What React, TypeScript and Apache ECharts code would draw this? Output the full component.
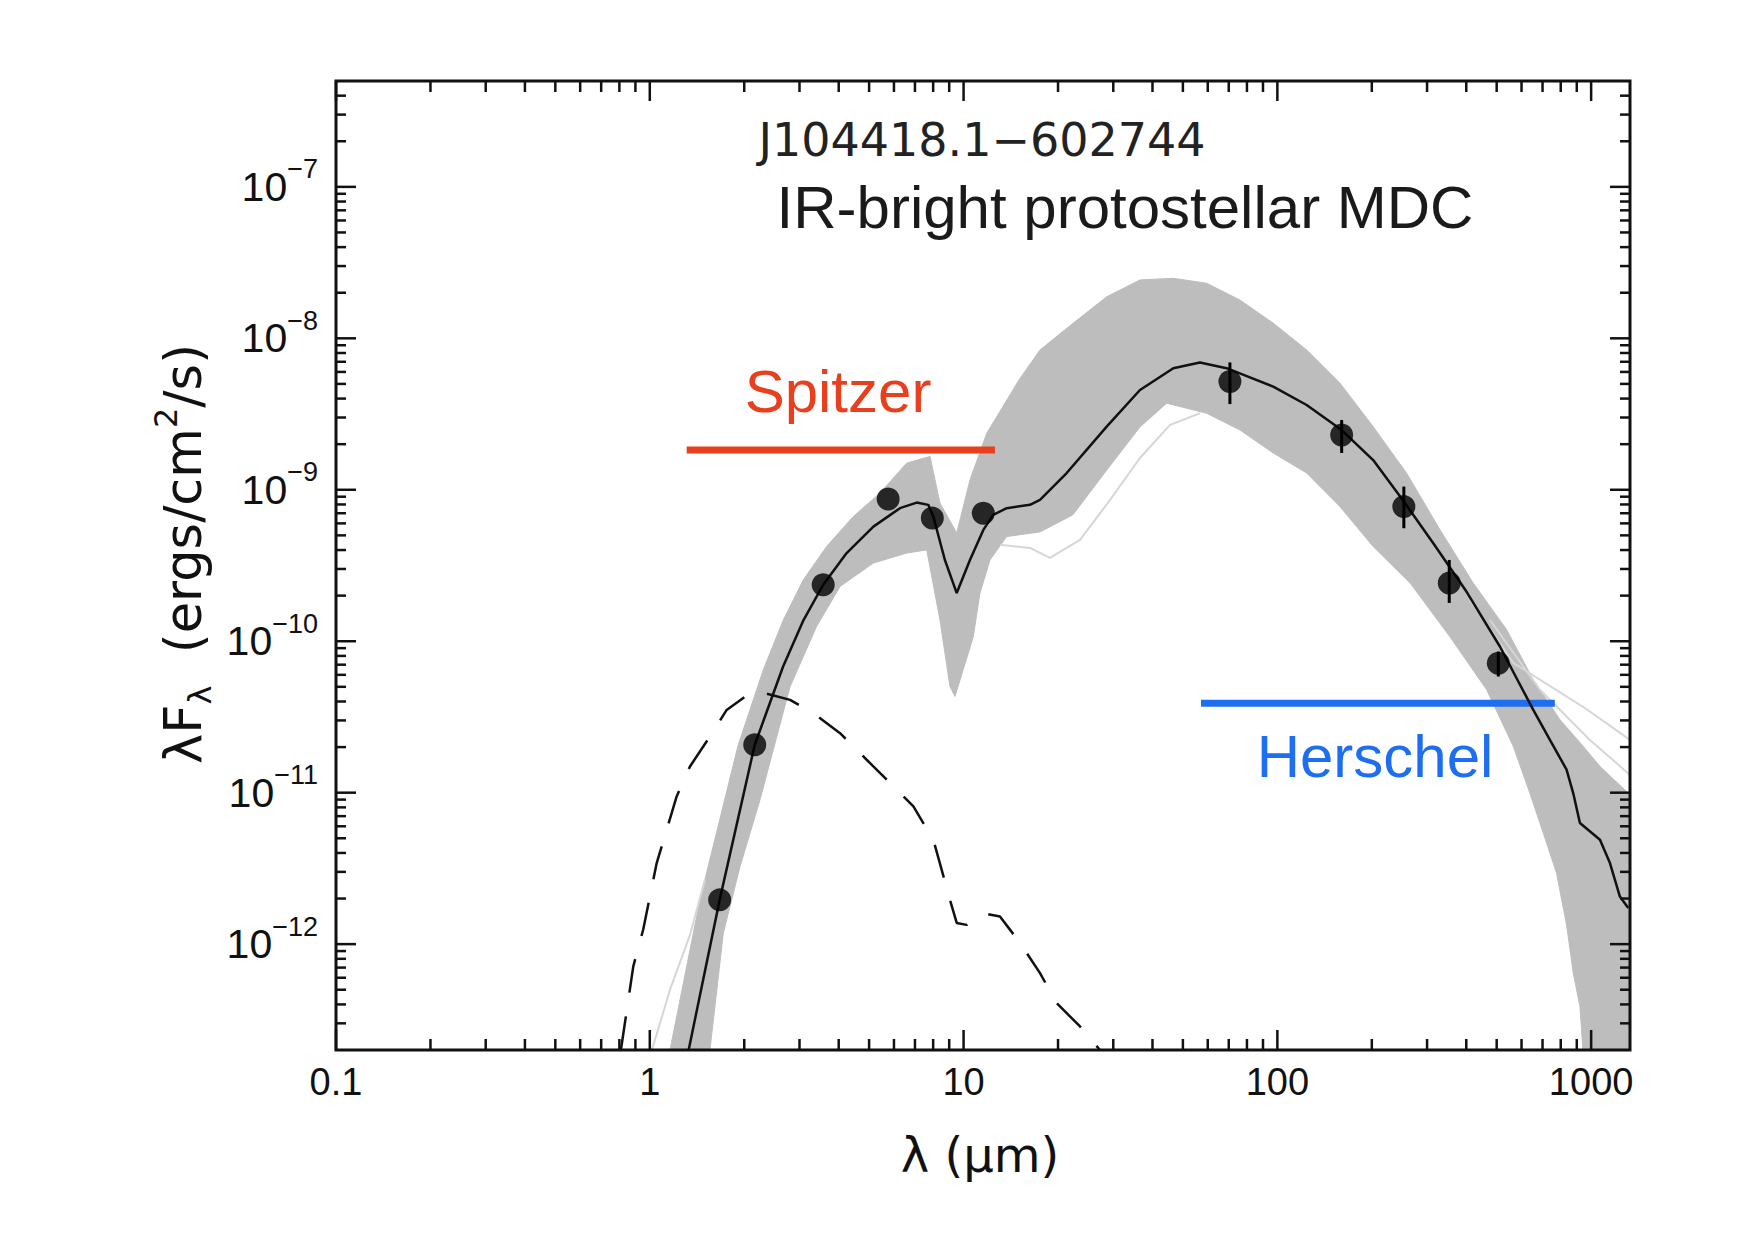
import React, { useEffect, useRef } from 'react';
import * as echarts from 'echarts';

// ---------- axis ranges & ticks ----------
const X_RANGE = [0.1, 1330];
const Y_RANGE = [2e-13, 5e-7];
const xMajorTicks = [0.1, 1, 10, 100, 1000];
const yMajorTicks = [1e-12, 1e-11, 1e-10, 1e-9, 1e-8, 1e-7];
const minorMantissas = [2, 3, 4, 5, 6, 7, 8, 9];
const xMinorDecades = [0.1, 1, 10, 100];
const yMinorDecades = [1e-13, 1e-12, 1e-11, 1e-10, 1e-9, 1e-8, 1e-7];

// ---------- observed photometry (lambda in micron, lambda F_lambda) ----------
const obsWave = [1.67, 2.16, 3.57, 5.75, 7.95, 11.56, 70.6, 160.3, 253, 353, 506];
const obsFlux = [1.96e-12, 2.07e-11, 2.36e-10, 8.7e-10, 6.5e-10, 7.0e-10, 5.18e-9, 2.3e-9, 7.74e-10, 2.42e-10, 7.16e-11];
const errWave = [70.6, 160.3, 253, 353, 506];
const errHigh = [6.93e-9, 2.89e-9, 1.05e-9, 3.44e-10, 8.55e-11];
const errLow = [3.68e-9, 1.75e-9, 5.57e-10, 1.79e-10, 5.85e-11];

// ---------- best fit model ----------
const fitWave = [1.33, 1.67, 2.16, 2.66, 3.09, 3.57, 4.24, 5.16, 6.27, 7.09, 7.72, 8.01, 8.72, 9.51, 10.48, 11.56, 12.43, 13.72, 16.28, 17.52, 21.31, 28.58, 36.49, 46.6, 56.66, 68.9, 97.0, 124, 160.3, 202, 253, 314, 401, 512, 654, 739, 835, 877, 921, 1067, 1148, 1235, 1313];
const fitFlux = [2.0e-13, 1.96e-12, 2.07e-11, 6.81e-11, 1.38e-10, 2.36e-10, 3.82e-10, 5.71e-10, 7.56e-10, 8.23e-10, 7.95e-10, 6.65e-10, 3.44e-10, 2.08e-10, 3.44e-10, 5.43e-10, 6.83e-10, 7.56e-10, 7.95e-10, 8.57e-10, 1.29e-9, 2.61e-9, 4.56e-9, 6.35e-9, 6.92e-9, 6.35e-9, 4.8e-9, 3.63e-9, 2.48e-9, 1.57e-9, 8.36e-10, 4.44e-10, 2.12e-10, 9.23e-11, 3.52e-11, 2.23e-11, 1.42e-11, 9.9e-12, 6.3e-12, 4.89e-12, 3.43e-12, 2.06e-12, 1.73e-12];

// ---------- envelope of acceptable models (grey band) ----------
const bandUpperWave = [1.16, 1.445, 1.91, 2.3, 2.664, 3.085, 3.66, 4.45, 5.41, 6.59, 7.82, 8.41, 9.51, 10.48, 11.85, 15.02, 17.52, 22.37, 28.58, 36.49, 46.6, 59.5, 76.0, 97.0, 124, 158.3, 202, 258, 330, 421, 538, 654, 796, 944, 1067, 1330, 1330];
const bandUpperFlux = [2e-13, 1.96e-12, 2.04e-11, 6.47e-11, 1.38e-10, 2.54e-10, 4.22e-10, 6.65e-10, 9.5e-10, 1.5e-9, 1.66e-9, 8.16e-10, 5.18e-10, 1.16e-9, 2.36e-9, 5.31e-9, 8.38e-9, 1.26e-8, 1.88e-8, 2.43e-8, 2.49e-8, 2.31e-8, 1.79e-8, 1.26e-8, 8.38e-9, 5.06e-9, 2.61e-9, 1.29e-9, 5.43e-10, 2.42e-10, 1.19e-10, 5.56e-11, 3.03e-11, 2.02e-11, 1.49e-11, 9.7e-12, 2e-13];
const bandLowerWave = [1.555, 1.715, 1.94, 2.245, 2.8, 3.4, 4.04, 5.155, 6.59, 7.63, 8.41, 9.05, 9.39, 10.74, 11.28, 12.14, 13.72, 17.52, 22.3, 28.6, 36.49, 44.4, 59.5, 76, 97, 124, 158.3, 202, 264.6, 354.8, 464.5, 565, 638, 704, 776, 835, 877, 921, 942];
const bandLowerFlux = [2e-13, 1.18e-12, 3.26e-12, 8.97e-12, 5.02e-11, 1.25e-10, 2.3e-10, 3.28e-10, 3.82e-10, 4.01e-10, 1.38e-10, 5.02e-11, 4.32e-11, 1.07e-10, 2.08e-10, 3.44e-10, 4.91e-10, 5.27e-10, 6.83e-10, 1.35e-9, 2.6e-9, 3.73e-9, 3.2e-9, 2.48e-9, 1.75e-9, 1.29e-9, 7.74e-10, 4.22e-10, 2.43e-10, 1.07e-10, 4.78e-11, 2.02e-11, 9.9e-12, 5.41e-12, 2.94e-12, 1.34e-12, 6.44e-13, 3.88e-13, 2e-13];

// faint outlying model curves
const faintAWave = [1.016, 1.16, 1.343, 1.499];
const faintAFlux = [2e-13, 5.0e-13, 1.15e-12, 2.66e-12];
const faintBWave = [13.06, 16.28, 18.85, 23.5, 29.3, 36.49, 45.5, 56.66];
const faintBFlux = [4.33e-10, 4.13e-10, 3.55e-10, 4.67e-10, 8.57e-10, 1.62e-9, 2.68e-9, 3.2e-9];
const faintCWave = [411, 565, 942, 1330];
const faintCFlux = [1.88e-10, 7.2e-11, 3.69e-11, 2.23e-11];
const faintDWave = [476, 687, 991, 1330];
const faintDFlux = [1.38e-10, 4.78e-11, 2.23e-11, 1.31e-11];

// ---------- stellar photosphere (dashed) ----------
const photWave = [0.809, 0.886, 0.953, 1.052, 1.218, 1.343, 1.555, 1.758, 2.086, 2.33, 2.8, 3.32, 4.04, 4.91, 5.83, 6.92, 8.01, 9.05, 9.51, 10.23, 11.7, 13.06, 15.13, 17.52, 19.8, 23.5, 27.2];
const photFlux = [2e-13, 7.13e-13, 1.25e-12, 3.43e-12, 9.44e-12, 1.49e-11, 2.35e-11, 3.52e-11, 4.54e-11, 4.54e-11, 4.1e-11, 3.35e-11, 2.47e-11, 1.65e-11, 1.16e-11, 8.11e-12, 4.89e-12, 1.96e-12, 1.38e-12, 1.34e-12, 1.59e-12, 1.52e-12, 1.02e-12, 6.44e-13, 4.08e-13, 2.86e-13, 2e-13];

// ---------- instrument coverage bars ----------
const spitzerWave = [1.311, 12.59];
const spitzerFlux = [1.83e-9, 1.83e-9];
const herschelWave = [57.1, 766];
const herschelFlux = [3.9e-11, 3.9e-11];

const RED = '#e8401e';
const BLUE = '#1d6ef0';
const BAND = '#bdbdbd';
const FAINT = '#d6d6d6';
const INK = '#111111';

const zip = (xs: number[], ys: number[]) => xs.map((x, i) => [x, ys[i]]);
const isPow10 = (v: number) => {
  const l = Math.log10(v);
  return Math.abs(l - Math.round(l)) < 1e-6;
};

export default function App() {
  const ref = useRef<HTMLDivElement>(null);

  useEffect(() => {
    if (!ref.current) return;
    const chart = echarts.init(ref.current, null, { renderer: 'svg' });

    const bandPts = [...zip(bandUpperWave, bandUpperFlux), ...zip(bandLowerWave, bandLowerFlux).reverse()];
    const xMinor = xMinorDecades.flatMap((d) => minorMantissas.map((m) => m * d)).filter((v) => v < X_RANGE[1] * 0.999);
    const yMinor = yMinorDecades
      .flatMap((d) => minorMantissas.map((m) => m * d))
      .filter((v) => v > Y_RANGE[0] * 1.001 && v < Y_RANGE[1] * 0.999);
    const xTicks = [...xMajorTicks.map((v) => [v, 1]), ...xMinor.map((v) => [v, 0])];
    const yTicks = [...yMajorTicks.map((v) => [v, 1]), ...yMinor.map((v) => [v, 0])];

    const bandRender = (params: any, api: any) => {
      if (params.dataIndex !== 0) return null;
      const points = bandPts.map((p) => api.coord(p));
      return { type: 'polygon', shape: { points }, style: { fill: BAND, stroke: BAND, lineWidth: 1 } };
    };

    const errRender = (params: any, api: any) => {
      const lo = api.coord([api.value(0), api.value(1)]);
      const hi = api.coord([api.value(0), api.value(2)]);
      return {
        type: 'line',
        shape: { x1: lo[0], y1: lo[1], x2: hi[0], y2: hi[1] },
        style: { stroke: '#000', lineWidth: 3 },
      };
    };

    const frameRender = (params: any, api: any) => {
      const cs = params.coordSys;
      const left = cs.x;
      const top = cs.y;
      const right = cs.x + cs.width;
      const bottom = cs.y + cs.height;
      const children: any[] = [];
      const add = (x1: number, y1: number, x2: number, y2: number) =>
        children.push({ type: 'line', shape: { x1, y1, x2, y2 }, style: { stroke: INK, lineWidth: 2.5 } });
      xTicks.forEach(([v, major]) => {
        const px = api.coord([v, Y_RANGE[0]])[0];
        const len = major ? 20 : 11;
        add(px, bottom, px, bottom - len);
        add(px, top, px, top + len);
      });
      yTicks.forEach(([v, major]) => {
        const py = api.coord([X_RANGE[0], v])[1];
        const len = major ? 20 : 10;
        add(left, py, left + len, py);
        add(right, py, right - len, py);
      });
      children.push({
        type: 'rect',
        shape: { x: left, y: top, width: cs.width, height: cs.height },
        style: { fill: 'none', stroke: INK, lineWidth: 3 },
      });
      return { type: 'group', children };
    };

    const faintLine = (w: number[], f: number[]) => ({
      type: 'line',
      data: zip(w, f),
      symbol: 'none',
      showSymbol: false,
      silent: true,
      lineStyle: { color: FAINT, width: 2 },
      z: 2,
    });

    const textStyle = (text: string, size: number, family: string, fill: string) => ({
      text,
      fontSize: size,
      fontFamily: family,
      fill,
      align: 'center',
      verticalAlign: 'middle',
      textAlign: 'center',
      textVerticalAlign: 'middle',
    });

    const option: any = {
      animation: false,
      backgroundColor: '#ffffff',
      grid: { left: 336, top: 81, width: 1294, height: 969, containLabel: false, outerBoundsMode: 'none' },
      xAxis: {
        type: 'log',
        logBase: 10,
        min: X_RANGE[0],
        max: X_RANGE[1],
        axisLine: { show: false },
        axisTick: { show: false },
        splitLine: { show: false },
        minorTick: { show: false },
        axisLabel: {
          margin: 13,
          color: INK,
          fontSize: 38,
          fontFamily: 'Liberation Sans',
          showMinLabel: true,
          showMaxLabel: true,
          formatter: (v: number) => (isPow10(v) ? (v < 1 ? '0.1' : String(Math.round(v))) : ''),
        },
      },
      yAxis: {
        type: 'log',
        logBase: 10,
        min: Y_RANGE[0],
        max: Y_RANGE[1],
        axisLine: { show: false },
        axisTick: { show: false },
        splitLine: { show: false },
        minorTick: { show: false },
        axisLabel: {
          margin: 18,
          color: INK,
          showMinLabel: true,
          showMaxLabel: true,
          formatter: (v: number) => {
            if (!isPow10(v)) return '';
            const e = Math.round(Math.log10(v));
            return `{b|10}{s|\u2212${Math.abs(e)}}`;
          },
          rich: {
            b: { fontSize: 41, fontFamily: 'Liberation Sans', color: INK, lineHeight: 62 },
            s: { fontSize: 27, fontFamily: 'Liberation Sans', color: INK, lineHeight: 26, verticalAlign: 'top' },
          },
        },
      },
      series: [
        { type: 'custom', name: 'models', renderItem: bandRender, data: bandPts, clip: true, silent: true, z: 1 },
        faintLine(faintAWave, faintAFlux),
        faintLine(faintBWave, faintBFlux),
        faintLine(faintCWave, faintCFlux),
        faintLine(faintDWave, faintDFlux),
        {
          type: 'line',
          name: 'photosphere',
          data: zip(photWave, photFlux),
          symbol: 'none',
          showSymbol: false,
          lineStyle: { color: INK, width: 2.5, type: [34, 24] },
          z: 3,
        },
        {
          type: 'line',
          name: 'Spitzer',
          data: zip(spitzerWave, spitzerFlux),
          symbol: 'none',
          showSymbol: false,
          lineStyle: { color: RED, width: 7 },
          z: 3,
        },
        {
          type: 'line',
          name: 'Herschel',
          data: zip(herschelWave, herschelFlux),
          symbol: 'none',
          showSymbol: false,
          lineStyle: { color: BLUE, width: 7 },
          z: 3,
        },
        {
          type: 'line',
          name: 'best fit',
          data: zip(fitWave, fitFlux),
          symbol: 'none',
          showSymbol: false,
          lineStyle: { color: INK, width: 2.5 },
          z: 4,
        },
        {
          type: 'custom',
          name: 'errors',
          renderItem: errRender,
          data: errWave.map((w, i) => [w, errLow[i], errHigh[i]]),
          encode: { x: 0, y: [1, 2] },
          z: 5,
        },
        {
          type: 'scatter',
          name: 'observed',
          data: zip(obsWave, obsFlux),
          symbol: 'circle',
          symbolSize: 23,
          itemStyle: { color: '#000' },
          z: 6,
        },
        { type: 'custom', name: 'frame', renderItem: frameRender, data: [[1, 1e-10]], silent: true, z: 10 },
      ],
      graphic: [
        { type: 'text', x: 982, y: 140, z: 100, style: textStyle('J104418.1\u2212602744', 46, 'DejaVu Sans', '#222') },
        { type: 'text', x: 1125, y: 207, z: 100, style: textStyle('IR-bright protostellar MDC', 60, 'Liberation Sans', '#1a1a1a') },
        { type: 'text', x: 838, y: 391, z: 100, style: textStyle('Spitzer', 60, 'Liberation Sans', RED) },
        { type: 'text', x: 1375, y: 756, z: 100, style: textStyle('Herschel', 60, 'Liberation Sans', BLUE) },
        { type: 'text', x: 980, y: 1155, z: 100, style: textStyle('\u03bb (\u00b5m)', 48, 'DejaVu Sans', INK) },
        {
          type: 'text',
          x: 183,
          y: 554,
          rotation: Math.PI / 2,
          z: 100,
          style: {
            text: '{a|\u03bbF}{sub|\u03bb}{a|  (ergs/cm}{sup|2}{a|/s)}',
            align: 'center',
            verticalAlign: 'middle',
            textAlign: 'center',
            textVerticalAlign: 'middle',
            fill: INK,
            rich: {
              a: { fontSize: 51, fontFamily: 'DejaVu Sans', fill: INK, color: INK, lineHeight: 66 },
              sub: { fontSize: 32, fontFamily: 'DejaVu Sans', fill: INK, color: INK, lineHeight: 32, verticalAlign: 'bottom' },
              sup: { fontSize: 32, fontFamily: 'DejaVu Sans', fill: INK, color: INK, lineHeight: 32, verticalAlign: 'top' },
            },
          },
        },
      ],
    };

    chart.setOption(option);
    return () => chart.dispose();
  }, []);

  return (
    <div
      ref={ref}
      style={{ position: 'fixed', left: 0, top: 0, width: 1755, height: 1240, background: '#fff' }}
    />
  );
}
